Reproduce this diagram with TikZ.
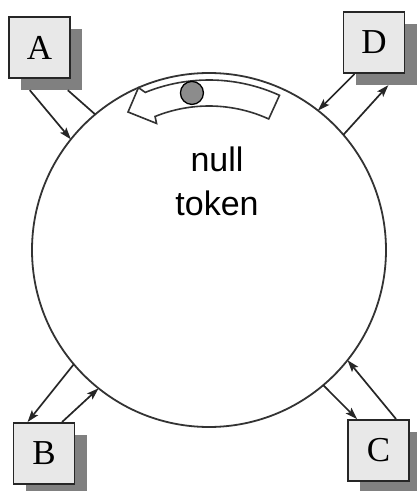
\documentclass[tikz,border=0pt]{standalone}
\usepackage{fontspec}
\setmainfont{Liberation Serif}
\newfontfamily\sansf{Liberation Sans}
\usetikzlibrary{arrows.meta,calc}
\begin{document}
\begin{tikzpicture}[x=1pt,y=1pt,
  stationbox/.style={draw=black!85, line width=1.9pt, fill=black!9, minimum width=61pt, minimum height=61pt, inner sep=0pt, font=\fontsize{35}{40}\selectfont},
  shadowbox/.style={fill=black!50, minimum width=61pt, minimum height=61pt, inner sep=0pt},
  link/.style={draw=black!85, line width=1.7pt},
  tip/.style={-{Stealth[length=12pt,width=8pt,inset=2.5pt]}},
  ringline/.style={draw=black!80, line width=1.8pt},
  tokenband/.style={draw=black!80, line width=1.6pt, fill=white},
  ballstyle/.style={circle, draw=black, line width=1.3pt, fill=black!45, minimum size=23pt, inner sep=0pt}]
\useasboundingbox (0,0) rectangle (417,491);
\coordinate (ctr) at (209,241);
\node[circle, ringline, minimum size=354pt, inner sep=0pt] (ring) at (ctr) {};
% circle attachment points
\coordinate (Ain) at ($(ctr)+(141.3:177)$);
\coordinate (Aout) at ($(ctr)+(130.0:177)$);
\coordinate (Din) at ($(ctr)+(52.0:177)$);
\coordinate (Dout) at ($(ctr)+(40.6:177)$);
\coordinate (Bout) at ($(ctr)+(220.2:177)$);
\coordinate (Bin) at ($(ctr)+(231.4:177)$);
\coordinate (Cout) at ($(ctr)+(310.2:177)$);
\coordinate (Cin) at ($(ctr)+(321.5:177)$);
% stations
\node[shadowbox] (As) at (51.5,431.5) {};
\node[stationbox] (A) at (39.5,443.5) {A};
\node[shadowbox] (Ds) at (386,436.5) {};
\node[stationbox] (D) at (374,448.5) {D};
\node[shadowbox] (Bs) at (56,25.5) {};
\node[stationbox] (B) at (44,37.5) {B};
\node[shadowbox] (Cs) at (390.5,28.5) {};
\node[stationbox] (Cbox) at (378.5,40.5) {C};
% links
\draw[link,tip] ($(As.south west)+(9,0)$) -- (Ain);
\draw[link] (Aout) -- ($(As.south west)+(47,0)$);
\draw[link,tip] ($(D.south west)+(12,0)$) -- (Din);
\draw[link,tip] (Dout) -- ($(Ds.south west)+(33,0)$);
\draw[link,tip] (Bout) -- ($(B.north west)+(15,0)$);
\draw[link,tip] ($(B.north west)+(49.5,0)$) -- (Bin);
\draw[link,tip] (Cout) -- ($(Cbox.north west)+(10,0)$);
\draw[link,tip] ($(Cbox.north west)+(49,0)$) -- (Cin);
% token
\draw[tokenband] ($(ctr)+(112:170)$) arc[start angle=112, end angle=65.5, radius=170pt]
  -- ($(ctr)+(65.5:144)$) arc[start angle=65.5, end angle=112, radius=144pt]
  -- ($(ctr)+(112.5:137)$) -- ($(ctr)+(120.4:160)$) -- ($(ctr)+(113.5:177)$) -- cycle;
\node[ballstyle] (ball) at ($(ctr)+(96.2:158)$) {};
\node[font=\sansf\fontsize{34}{44}\selectfont, align=center] (lbl) at (217,310) {null\\token};
\end{tikzpicture}
\end{document}
